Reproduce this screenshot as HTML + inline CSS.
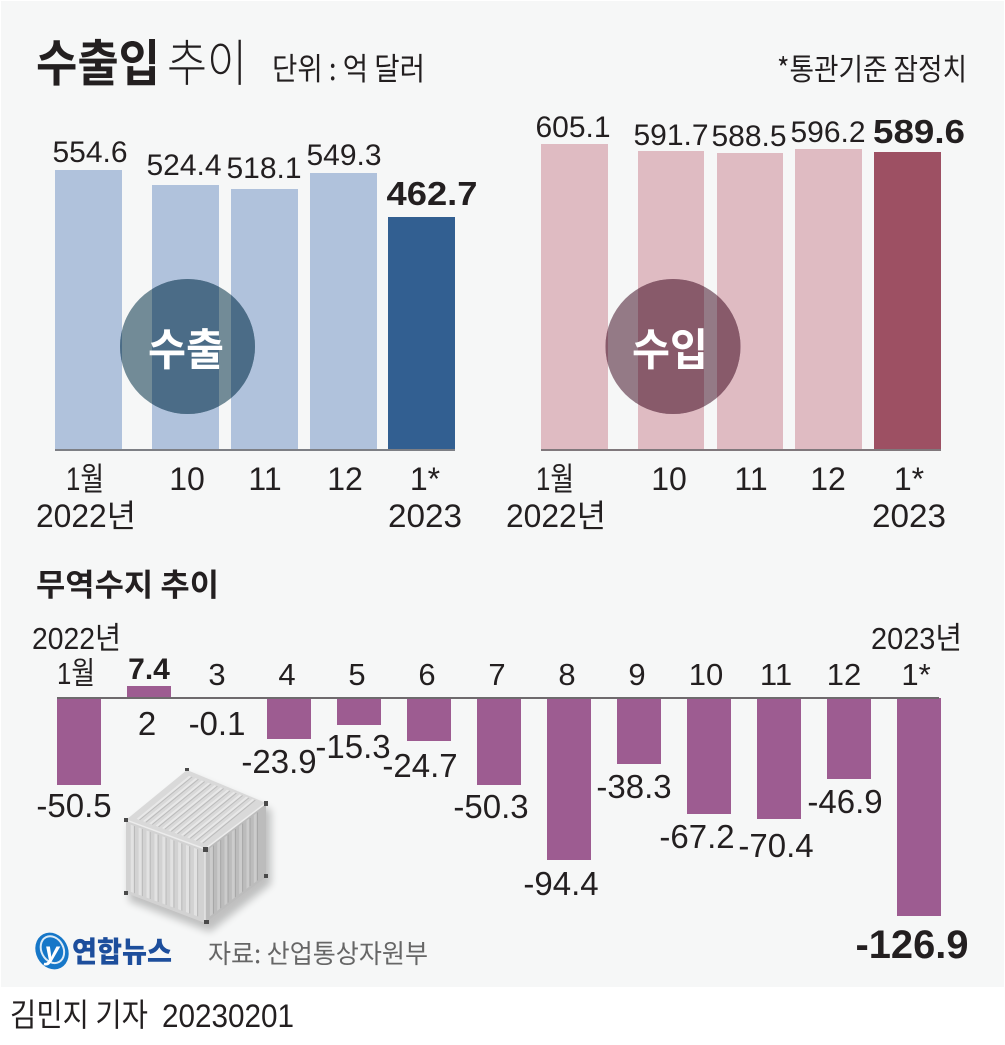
<!DOCTYPE html>
<html><head><meta charset="utf-8">
<style>
html,body{margin:0;padding:0;background:#fff;}
svg{display:block;}
text{font-family:"Liberation Sans","Noto Sans CJK KR",sans-serif;fill:#231f20;}
.k{font-family:"Noto Sans CJK KR","Liberation Sans",sans-serif;}
</style></head><body>
<svg width="1005" height="1045" viewBox="0 0 1005 1045" xmlns="http://www.w3.org/2000/svg">
<defs>
<clipPath id="ce"><circle cx="187.5" cy="346.5" r="67.5"/></clipPath>
<clipPath id="ci"><circle cx="673" cy="346.5" r="67.5"/></clipPath>
<filter id="bl" x="-30%" y="-30%" width="160%" height="160%"><feGaussianBlur stdDeviation="4"/></filter>
</defs>
<rect x="0" y="0" width="1005" height="1045" fill="#fff"/>
<rect x="1" y="1" width="1003" height="986" fill="#f6f7f7"/>

<!-- Header -->
<text class="k" x="36" y="81" font-size="50" font-weight="700" textLength="124" lengthAdjust="spacingAndGlyphs">수출입</text>
<text class="k" x="167" y="81" font-size="50" font-weight="300" textLength="80" lengthAdjust="spacingAndGlyphs">추이</text>
<text class="k" x="272" y="80" font-size="31" textLength="153" lengthAdjust="spacingAndGlyphs">단위 : 억 달러</text>
<text class="k" x="777" y="80" font-size="30" fill="#333" textLength="190" lengthAdjust="spacingAndGlyphs">*통관기준 잠정치</text>

<!-- Export bars -->
<rect x="55" y="170" width="67" height="280" fill="#b0c2dc"/>
<rect x="152" y="185" width="67" height="265" fill="#b0c2dc"/>
<rect x="231" y="189" width="67" height="261" fill="#b0c2dc"/>
<rect x="310" y="173" width="67" height="277" fill="#b0c2dc"/>
<rect x="388" y="217" width="67" height="233" fill="#325f91"/>
<g clip-path="url(#ce)">
<rect x="110" y="270" width="160" height="160" fill="#728b97"/>
<rect x="55" y="170" width="67" height="280" fill="#4b6c87"/>
<rect x="152" y="185" width="67" height="265" fill="#4b6c87"/>
<rect x="231" y="189" width="67" height="261" fill="#4b6c87"/>
</g>
<rect x="55" y="449" width="400" height="2" fill="#7d7f85"/>
<text class="k" x="186" y="365" text-anchor="middle" font-size="44" font-weight="700" fill="#fff" style="fill:#fff" textLength="76" lengthAdjust="spacingAndGlyphs">수출</text>

<text x="90" y="162" text-anchor="middle" font-size="30">554.6</text>
<text x="184" y="175" text-anchor="middle" font-size="30">524.4</text>
<text x="264" y="178" text-anchor="middle" font-size="30">518.1</text>
<text x="344" y="165" text-anchor="middle" font-size="30">549.3</text>
<text x="432" y="205" text-anchor="middle" font-size="33" font-weight="700" textLength="91" lengthAdjust="spacingAndGlyphs">462.7</text>

<text x="85" y="490" text-anchor="middle" font-size="32" textLength="38" lengthAdjust="spacingAndGlyphs">1월</text>
<text x="86" y="527" text-anchor="middle" font-size="32" textLength="100" lengthAdjust="spacingAndGlyphs">2022년</text>
<text x="187" y="490" text-anchor="middle" font-size="32">10</text>
<text x="265" y="490" text-anchor="middle" font-size="32">11</text>
<text x="345" y="490" text-anchor="middle" font-size="32">12</text>
<text x="425" y="490" text-anchor="middle" font-size="32">1*</text>
<text x="425" y="527" text-anchor="middle" font-size="32" textLength="74" lengthAdjust="spacingAndGlyphs">2023</text>

<!-- Import bars -->
<rect x="541" y="144" width="67" height="306" fill="#dfbbc2"/>
<rect x="638" y="151" width="66" height="299" fill="#dfbbc2"/>
<rect x="717" y="153" width="66" height="297" fill="#dfbbc2"/>
<rect x="795" y="149" width="67" height="301" fill="#dfbbc2"/>
<rect x="874" y="152" width="67" height="298" fill="#9d5063"/>
<g clip-path="url(#ci)">
<rect x="600" y="270" width="150" height="160" fill="#947a86"/>
<rect x="541" y="144" width="67" height="306" fill="#885a6a"/>
<rect x="638" y="151" width="66" height="299" fill="#885a6a"/>
<rect x="717" y="153" width="66" height="297" fill="#885a6a"/>
</g>
<rect x="541" y="449" width="400" height="2" fill="#80787c"/>
<text class="k" x="670" y="365" text-anchor="middle" font-size="44" font-weight="700" style="fill:#fff" textLength="76" lengthAdjust="spacingAndGlyphs">수입</text>

<text x="573" y="137" text-anchor="middle" font-size="30">605.1</text>
<text x="671" y="145" text-anchor="middle" font-size="30">591.7</text>
<text x="749" y="146" text-anchor="middle" font-size="30">588.5</text>
<text x="828" y="142" text-anchor="middle" font-size="30">596.2</text>
<text x="919" y="143" text-anchor="middle" font-size="33" font-weight="700" textLength="92" lengthAdjust="spacingAndGlyphs">589.6</text>

<text x="555" y="490" text-anchor="middle" font-size="32" textLength="38" lengthAdjust="spacingAndGlyphs">1월</text>
<text x="556" y="527" text-anchor="middle" font-size="32" textLength="100" lengthAdjust="spacingAndGlyphs">2022년</text>
<text x="669" y="490" text-anchor="middle" font-size="32">10</text>
<text x="751" y="490" text-anchor="middle" font-size="32">11</text>
<text x="828" y="490" text-anchor="middle" font-size="32">12</text>
<text x="909" y="490" text-anchor="middle" font-size="32">1*</text>
<text x="909" y="527" text-anchor="middle" font-size="32" textLength="74" lengthAdjust="spacingAndGlyphs">2023</text>

<!-- Trade balance -->
<text class="k" x="36" y="596" font-size="31" font-weight="700" textLength="183" lengthAdjust="spacingAndGlyphs">무역수지 추이</text>
<text x="32" y="649" font-size="31" textLength="89" lengthAdjust="spacingAndGlyphs">2022년</text>
<text x="871" y="649" font-size="31" textLength="91" lengthAdjust="spacingAndGlyphs">2023년</text>

<g fill="#9d5c91">
<rect x="57" y="698" width="44" height="87"/>
<rect x="127" y="686" width="44" height="12"/>
<rect x="267" y="698" width="44" height="41"/>
<rect x="337" y="698" width="44" height="27"/>
<rect x="407" y="698" width="44" height="43"/>
<rect x="477" y="698" width="44" height="87"/>
<rect x="547" y="698" width="44" height="162"/>
<rect x="617" y="698" width="44" height="66"/>
<rect x="687" y="698" width="44" height="116"/>
<rect x="757" y="698" width="44" height="121"/>
<rect x="827" y="698" width="44" height="81"/>
<rect x="897" y="698" width="44" height="218"/>
</g>
<rect x="57" y="697" width="882" height="2" fill="#6e6a6d"/>

<text x="76" y="684" text-anchor="middle" font-size="31" textLength="38" lengthAdjust="spacingAndGlyphs">1월</text>
<text x="149" y="679" text-anchor="middle" font-size="30" font-weight="700">7.4</text>
<text x="217" y="685" text-anchor="middle" font-size="31">3</text>
<text x="287" y="685" text-anchor="middle" font-size="31">4</text>
<text x="357" y="685" text-anchor="middle" font-size="31">5</text>
<text x="427" y="685" text-anchor="middle" font-size="31">6</text>
<text x="497" y="685" text-anchor="middle" font-size="31">7</text>
<text x="567" y="685" text-anchor="middle" font-size="31">8</text>
<text x="637" y="685" text-anchor="middle" font-size="31">9</text>
<text x="706" y="685" text-anchor="middle" font-size="31">10</text>
<text x="776" y="685" text-anchor="middle" font-size="31">11</text>
<text x="844" y="685" text-anchor="middle" font-size="31">12</text>
<text x="916" y="685" text-anchor="middle" font-size="31">1*</text>

<g font-size="33" text-anchor="middle">
<text x="147" y="735">2</text>
<text x="217" y="735">-0.1</text>
<text x="279" y="773">-23.9</text>
<text x="353" y="758">-15.3</text>
<text x="420" y="777">-24.7</text>
<text x="74" y="817">-50.5</text>
<text x="491" y="818">-50.3</text>
<text x="561" y="895">-94.4</text>
<text x="634" y="798">-38.3</text>
<text x="697" y="848">-67.2</text>
<text x="776" y="857">-70.4</text>
<text x="845" y="813">-46.9</text>
</g>
<text x="912" y="958" text-anchor="middle" font-size="40" font-weight="700" textLength="113" lengthAdjust="spacingAndGlyphs">-126.9</text>

<!-- Container -->
<polygon points="126,822 187,772 268,806 268,880 207,928 126,897" fill="#000" opacity="0.22" filter="url(#bl)" transform="translate(3,4)"/>
<polygon points="126,820 187,770 266,803 205,849" fill="#d9d9d9"/>
<g transform="matrix(0.61,-0.5,0.79,0.29,126,820)">
<g fill="#e8e8e8">
<rect x="7" y="8" width="86" height="3"/><rect x="7" y="16" width="86" height="3"/><rect x="7" y="24" width="86" height="3"/>
<rect x="7" y="32" width="86" height="3"/><rect x="7" y="40" width="86" height="3"/><rect x="7" y="48" width="86" height="3"/>
<rect x="7" y="56" width="86" height="3"/><rect x="7" y="64" width="86" height="3"/><rect x="7" y="72" width="86" height="3"/>
<rect x="7" y="80" width="86" height="3"/><rect x="7" y="88" width="86" height="3"/>
</g>
<g fill="#bdbdbd">
<rect x="7" y="11" width="86" height="1.5"/><rect x="7" y="19" width="86" height="1.5"/><rect x="7" y="27" width="86" height="1.5"/>
<rect x="7" y="35" width="86" height="1.5"/><rect x="7" y="43" width="86" height="1.5"/><rect x="7" y="51" width="86" height="1.5"/>
<rect x="7" y="59" width="86" height="1.5"/><rect x="7" y="67" width="86" height="1.5"/><rect x="7" y="75" width="86" height="1.5"/>
<rect x="7" y="83" width="86" height="1.5"/><rect x="7" y="91" width="86" height="1.5"/>
</g>
</g>
<polygon points="126,820 205,849 205,923 126,893" fill="#d2d2d2"/>
<g transform="matrix(0.79,0.29,0,0.73,126,820)">
<g fill="#e2e2e2">
<rect x="6" y="4" width="4" height="92"/><rect x="16" y="4" width="4" height="92"/><rect x="26" y="4" width="4" height="92"/>
<rect x="36" y="4" width="4" height="92"/><rect x="46" y="4" width="4" height="92"/><rect x="56" y="4" width="4" height="92"/>
<rect x="66" y="4" width="4" height="92"/><rect x="76" y="4" width="4" height="92"/><rect x="86" y="4" width="4" height="92"/>
</g>
<g fill="#b9b9b9">
<rect x="10" y="4" width="1.3" height="92"/><rect x="20" y="4" width="1.3" height="92"/><rect x="30" y="4" width="1.3" height="92"/>
<rect x="40" y="4" width="1.3" height="92"/><rect x="50" y="4" width="1.3" height="92"/><rect x="60" y="4" width="1.3" height="92"/>
<rect x="70" y="4" width="1.3" height="92"/><rect x="80" y="4" width="1.3" height="92"/><rect x="90" y="4" width="1.3" height="92"/>
</g>
</g>
<polygon points="205,849 266,803 266,877 205,923" fill="#bcbcbc"/>
<g transform="matrix(0.61,-0.46,0,0.74,205,849)">
<g fill="#cccccc">
<rect x="8" y="4" width="5" height="92"/><rect x="20" y="4" width="5" height="92"/><rect x="32" y="4" width="5" height="92"/>
<rect x="44" y="4" width="5" height="92"/><rect x="56" y="4" width="5" height="92"/><rect x="68" y="4" width="5" height="92"/>
<rect x="80" y="4" width="5" height="92"/>
</g>
<g fill="#a3a3a3">
<rect x="13" y="4" width="1.5" height="92"/><rect x="25" y="4" width="1.5" height="92"/><rect x="37" y="4" width="1.5" height="92"/>
<rect x="49" y="4" width="1.5" height="92"/><rect x="61" y="4" width="1.5" height="92"/><rect x="73" y="4" width="1.5" height="92"/>
<rect x="85" y="4" width="1.5" height="92"/>
</g>
</g>
<polyline points="126,820 205,849 266,803" fill="none" stroke="#ececec" stroke-width="1.5"/>
<line x1="205" y1="849" x2="205" y2="923" stroke="#e4e4e4" stroke-width="1.5"/>
<g fill="#4a4a4a">
<rect x="124" y="818" width="4" height="4"/><rect x="185" y="768" width="4" height="3"/><rect x="264" y="801" width="4" height="5"/>
<rect x="203" y="847" width="5" height="5"/><rect x="124" y="891" width="4" height="4"/><rect x="204" y="920" width="5" height="4"/>
<rect x="264" y="874" width="4" height="4"/>
</g>

<!-- Logo and source -->
<ellipse cx="52" cy="951" rx="16" ry="19" fill="#1677c8" transform="rotate(-28 52 951)"/>
<ellipse cx="53" cy="950" rx="11" ry="14" fill="none" stroke="#fff" stroke-width="2" opacity="0.85" transform="rotate(-28 52 951)"/>
<text x="52" y="960" text-anchor="middle" font-size="26" font-weight="700" font-style="italic" style="fill:#fff">y</text>
<text class="k" x="72" y="962" font-size="29" font-weight="900" fill="#1d4e9c" style="fill:#1d4e9c" textLength="100" lengthAdjust="spacingAndGlyphs">연합뉴스</text>
<text class="k" x="208" y="963" font-size="26" style="fill:#666" textLength="220" lengthAdjust="spacingAndGlyphs">자료: 산업통상자원부</text>

<!-- Footer -->
<text class="k" x="10" y="1026" font-size="32" textLength="138" lengthAdjust="spacingAndGlyphs">김민지 기자</text>
<text x="162" y="1027" font-size="32" textLength="132" lengthAdjust="spacingAndGlyphs">20230201</text>
</svg>
</body></html>
